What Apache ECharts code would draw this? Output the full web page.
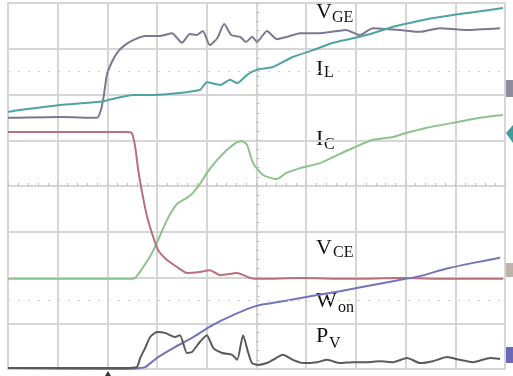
<!DOCTYPE html>
<html>
<head>
<meta charset="utf-8">
<script src="https://cdn.jsdelivr.net/npm/echarts@6/dist/echarts.min.js"></script>
<style>
  html, body { margin: 0; padding: 0; background: #ffffff; }
  #chart { width: 513px; height: 376px; }
</style>
</head>
<body>
<div id="chart"></div>
<script>
// Scope screen: 10 x 8 divisions, both axes in tenths of a division.
// Time runs -50..50, amplitude -40..40, centre of the screen at (0, 0).

// Gate-emitter voltage
const vgeTime  = [-50, -39.5, -32.1, -31.3, -30.7, -30.1, -29.1, -27.9, -26.5, -24.8, -22.4, -19.4, -17.0, -15.0, -13.4, -12.0, -10.8, -9.4, -7.9, -6.5, -5.1, -3.3, -2.1, -0.9, 0.1, 2.1, 4.1, 6.1, 8.8, 12.8, 18.0, 20.8, 23.4, 28.9, 32.9, 36.9, 42.2, 49.0];
const vgeValue = [14.9, 15.1, 14.9, 16.6, 19.9, 24.3, 27.1, 29.3, 30.8, 31.9, 32.8, 32.8, 33.4, 31.3, 33.2, 33.0, 33.9, 30.8, 32.3, 35.4, 33.0, 32.6, 31.5, 32.6, 31.5, 33.9, 32.1, 32.6, 33.4, 33.4, 34.1, 33.0, 34.5, 34.1, 33.7, 34.5, 34.1, 34.5];

// Inductor current
const ilTime  = [-50, -47.6, -39.5, -31.5, -24.8, -20.8, -11.4, -10.0, -7.3, -5.3, -3.9, -1.9, 0.1, 3.3, 7.3, 11.4, 15.4, 19.4, 23.4, 27.5, 31.5, 35.5, 39.5, 43.6, 49.6];
const ilValue = [16.2, 16.6, 17.7, 18.4, 19.9, 19.9, 21.0, 22.7, 22.1, 23.2, 22.5, 24.3, 25.4, 26.0, 28.2, 29.7, 31.3, 32.3, 33.4, 34.8, 35.8, 36.7, 37.4, 38.0, 38.9];

// Collector current
const icTime  = [-50, -24.8, -22.8, -21.0, -19.8, -18.0, -16.0, -14.0, -12.8, -11.4, -10.0, -7.9, -5.9, -3.9, -2.9, -1.9, -0.7, 1.3, 4.1, 5.9, 8.8, 12.8, 15.4, 19.4, 23.4, 27.5, 30.1, 34.1, 39.5, 45.0, 49.6];
const icValue = [-20.3, -20.3, -17.7, -14.6, -11.8, -7.4, -3.9, -2.6, -1.5, 0.4, 2.8, 5.7, 7.9, 9.6, 9.8, 9.0, 5.0, 2.4, 1.5, 2.8, 3.9, 5.0, 6.3, 8.3, 10.1, 10.7, 11.6, 12.7, 13.8, 14.9, 15.5];

// Collector-emitter voltage
const vceTime  = [-50, -26.5, -25.1, -24.4, -23.8, -23.0, -22.0, -20.8, -19.8, -18.0, -16.0, -14.0, -11.4, -9.4, -7.3, -3.9, -1.3, 0.7, 8.8, 18.8, 28.9, 38.9, 49.6];
const vceValue = [11.8, 11.8, 11.6, 8.5, 3.5, -1.5, -6.8, -11.1, -14.0, -16.2, -17.7, -19.0, -18.8, -18.4, -19.5, -19.0, -20.1, -20.3, -20.1, -20.3, -20.1, -20.3, -20.3];

// Turn-on energy
const wonTime  = [-50, -26.5, -23.4, -22.4, -19.8, -16.4, -13.0, -9.8, -6.9, -1.9, 0.7, 5.9, 11.4, 16.8, 22.0, 27.5, 32.9, 38.1, 43.6, 49.0];
const wonValue = [-39.8, -40.0, -39.8, -39.6, -37.4, -35.2, -33.2, -31.0, -29.3, -26.9, -26.0, -25.1, -24.0, -23.0, -21.9, -20.8, -19.7, -18.1, -16.8, -15.7];

// Instantaneous power loss
const pvTime  = [-50, -26.5, -24.1, -23.4, -22.4, -21.4, -20.0, -18.4, -16.4, -15.4, -14.0, -13.0, -11.4, -10.0, -8.7, -6.9, -4.9, -3.9, -2.7, -1.7, -0.9, 0.3, 2.1, 3.3, 5.3, 7.3, 9.4, 12.2, 14.2, 16.8, 19.4, 22.2, 24.8, 27.5, 30.3, 32.9, 35.5, 38.3, 40.9, 43.6, 47.0, 49.0];
const pvValue = [-39.8, -39.8, -39.6, -37.6, -35.4, -33.0, -31.9, -32.1, -33.0, -32.6, -36.5, -36.3, -34.1, -32.6, -35.4, -36.5, -36.9, -38.0, -32.6, -36.3, -38.7, -39.1, -38.7, -38.0, -36.9, -38.0, -38.7, -38.5, -38.0, -38.7, -38.5, -38.5, -38.3, -38.5, -37.6, -38.7, -38.3, -37.4, -38.0, -38.5, -37.6, -37.8];

const zip = (t, v) => t.map((x, i) => [x, v[i]]);

const gridColor = '#d6d6d6';
const serif = '"Liberation Serif", "DejaVu Serif", serif';

function trace(name, t, v, color) {
  return {
    name, type: 'line', data: zip(t, v),
    showSymbol: false, smooth: 0.2, animation: false,
    lineStyle: { color, width: 2 }
  };
}

// Trace label: main letter plus subscript, placed by their baselines
function label(main, sub, x, baseY, subX, subBaseY) {
  return [
    { type: 'text', x, y: baseY - 7.4, style: { text: main, font: '22px ' + serif, fill: '#111', verticalAlign: 'middle' } },
    { type: 'text', x: subX, y: subBaseY - 5.4, style: { text: sub, font: '16px ' + serif, fill: '#111', verticalAlign: 'middle' } }
  ];
}

const chart = echarts.init(document.getElementById('chart'), null, { renderer: 'canvas' });

chart.setOption({
  backgroundColor: '#ffffff',
  animation: false,
  grid: { left: 8, right: 8, top: 3, bottom: 7, show: true, borderColor: gridColor, borderWidth: 2 },
  xAxis: {
    type: 'value', min: -50, max: 50, interval: 10,
    axisLine: { show: true, onZero: true, lineStyle: { color: gridColor, width: 2 } },
    axisTick: { show: true, inside: true, length: 3, lineStyle: { color: '#bdbdbd' } },
    minorTick: { show: true, splitNumber: 5, length: 3, lineStyle: { color: '#bdbdbd' } },
    axisLabel: { show: false },
    splitLine: { show: true, lineStyle: { color: gridColor, width: 2 } }
  },
  yAxis: {
    type: 'value', min: -40, max: 40, interval: 10,
    axisLine: { show: true, onZero: true, lineStyle: { color: gridColor, width: 2 } },
    axisTick: { show: true, inside: true, length: 3, lineStyle: { color: '#bdbdbd' } },
    minorTick: { show: true, splitNumber: 5, length: 3, lineStyle: { color: '#bdbdbd' } },
    axisLabel: { show: false },
    splitLine: { show: true, lineStyle: { color: gridColor, width: 2 } }
  },
  series: [
    {
      type: 'line', data: [], silent: true,
      markLine: {
        symbol: 'none', silent: true, label: { show: false },
        lineStyle: { color: '#cfcfcf', type: [2, 8], width: 1 },
        data: [{ yAxis: 25 }, { yAxis: -25 }]
      }
    },
    trace('V_GE', vgeTime, vgeValue, '#7d778f'),
    trace('I_L', ilTime, ilValue, '#4ea3a3'),
    trace('I_C', icTime, icValue, '#8cc28c'),
    trace('V_CE', vceTime, vceValue, '#b8707c'),
    trace('W_on', wonTime, wonValue, '#7474b8'),
    trace('P_V', pvTime, pvValue, '#5a5a5a')
  ],
  graphic: [
    ...label('V', 'GE', 316, 20, 332, 23),
    ...label('I', 'L', 316, 77, 324, 78),
    ...label('I', 'C', 316, 147, 324, 150),
    ...label('V', 'CE', 316, 256, 333, 258),
    ...label('W', 'on', 316, 309, 338, 313),
    ...label('P', 'V', 316, 344, 329, 349),
    // channel reference markers on the right edge
    { type: 'rect', shape: { x: 505, y: 80, width: 8, height: 17 }, style: { fill: '#8d8d9c' } },
    { type: 'polygon', shape: { points: [[506, 133], [513, 125], [513, 143]] }, style: { fill: '#3f9a9a' } },
    { type: 'rect', shape: { x: 505, y: 263, width: 8, height: 14 }, style: { fill: '#bdb3aa' } },
    { type: 'rect', shape: { x: 505, y: 347, width: 8, height: 16 }, style: { fill: '#6a6ab8' } },
    // trigger position marker
    { type: 'polygon', shape: { points: [[105, 376], [111, 376], [108, 371]] }, style: { fill: '#333333' } }
  ]
});
</script>
</body>
</html>
